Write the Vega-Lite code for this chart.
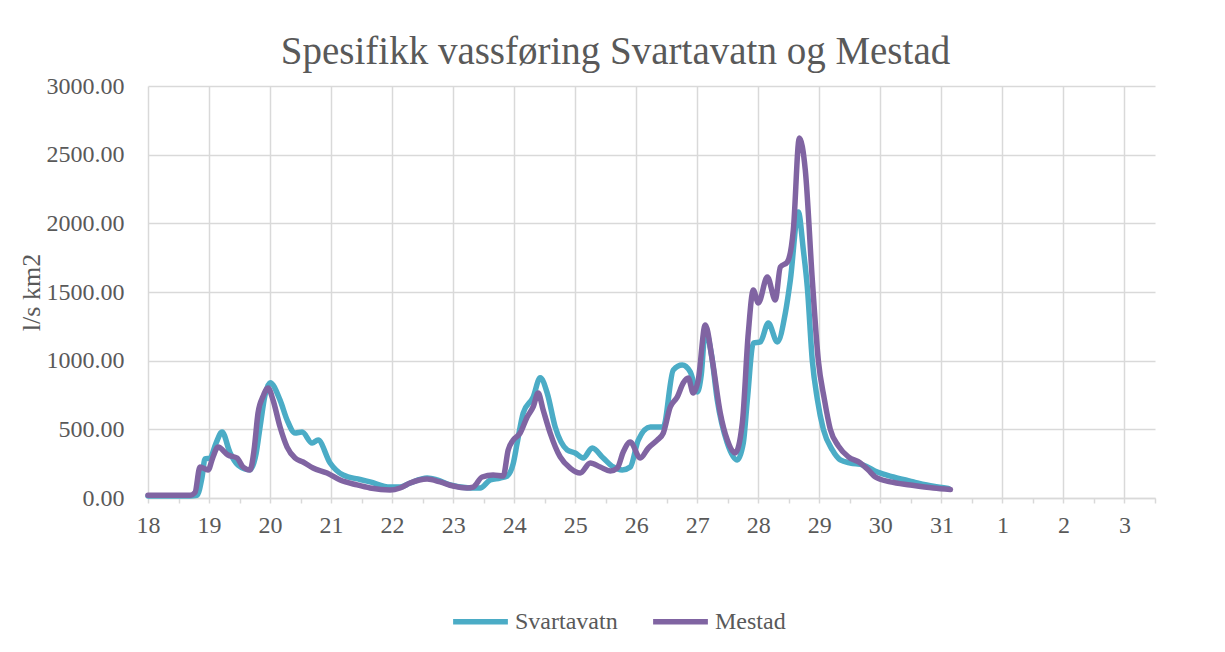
{
  "$schema": "https://vega.github.io/schema/vega-lite/v6.json",
  "autosize": "none",
  "width": 1007,
  "height": 412,
  "padding": {"left": 148, "top": 86, "right": 70, "bottom": 154},
  "background": "white",
  "title": {
    "text": "Spesifikk vassføring Svartavatn og Mestad",
    "anchor": "middle",
    "dx": -36,
    "offset": 2,
    "font": "Liberation Serif",
    "fontSize": 39,
    "fontWeight": "normal",
    "color": "#595959"
  },
  "config": {
    "view": {"stroke": null},
    "font": "Liberation Serif"
  },
  "data": {
    "values": [
      {"t": 0, "v": 15, "s": "Svartavatn"},
      {"t": 0.361, "v": 15, "s": "Svartavatn"},
      {"t": 0.689, "v": 15, "s": "Svartavatn"},
      {"t": 0.803, "v": 20, "s": "Svartavatn"},
      {"t": 0.885, "v": 150, "s": "Svartavatn"},
      {"t": 0.934, "v": 285, "s": "Svartavatn"},
      {"t": 1.016, "v": 290, "s": "Svartavatn"},
      {"t": 1.115, "v": 400, "s": "Svartavatn"},
      {"t": 1.213, "v": 480, "s": "Svartavatn"},
      {"t": 1.344, "v": 330, "s": "Svartavatn"},
      {"t": 1.475, "v": 240, "s": "Svartavatn"},
      {"t": 1.672, "v": 205, "s": "Svartavatn"},
      {"t": 1.770, "v": 320, "s": "Svartavatn"},
      {"t": 1.836, "v": 517, "s": "Svartavatn"},
      {"t": 1.918, "v": 750, "s": "Svartavatn"},
      {"t": 2.0, "v": 840, "s": "Svartavatn"},
      {"t": 2.164, "v": 713, "s": "Svartavatn"},
      {"t": 2.279, "v": 568, "s": "Svartavatn"},
      {"t": 2.410, "v": 473, "s": "Svartavatn"},
      {"t": 2.525, "v": 480, "s": "Svartavatn"},
      {"t": 2.689, "v": 400, "s": "Svartavatn"},
      {"t": 2.787, "v": 422, "s": "Svartavatn"},
      {"t": 2.984, "v": 255, "s": "Svartavatn"},
      {"t": 3.197, "v": 167, "s": "Svartavatn"},
      {"t": 3.475, "v": 135, "s": "Svartavatn"},
      {"t": 3.639, "v": 117, "s": "Svartavatn"},
      {"t": 3.967, "v": 80, "s": "Svartavatn"},
      {"t": 4.131, "v": 80, "s": "Svartavatn"},
      {"t": 4.295, "v": 109, "s": "Svartavatn"},
      {"t": 4.574, "v": 145, "s": "Svartavatn"},
      {"t": 4.738, "v": 131, "s": "Svartavatn"},
      {"t": 4.951, "v": 95, "s": "Svartavatn"},
      {"t": 5.279, "v": 73, "s": "Svartavatn"},
      {"t": 5.443, "v": 73, "s": "Svartavatn"},
      {"t": 5.607, "v": 131, "s": "Svartavatn"},
      {"t": 5.770, "v": 145, "s": "Svartavatn"},
      {"t": 5.885, "v": 160, "s": "Svartavatn"},
      {"t": 5.984, "v": 250, "s": "Svartavatn"},
      {"t": 6.049, "v": 400, "s": "Svartavatn"},
      {"t": 6.148, "v": 619, "s": "Svartavatn"},
      {"t": 6.311, "v": 735, "s": "Svartavatn"},
      {"t": 6.426, "v": 875, "s": "Svartavatn"},
      {"t": 6.541, "v": 764, "s": "Svartavatn"},
      {"t": 6.672, "v": 517, "s": "Svartavatn"},
      {"t": 6.869, "v": 350, "s": "Svartavatn"},
      {"t": 7.0, "v": 328, "s": "Svartavatn"},
      {"t": 7.131, "v": 291, "s": "Svartavatn"},
      {"t": 7.279, "v": 364, "s": "Svartavatn"},
      {"t": 7.459, "v": 291, "s": "Svartavatn"},
      {"t": 7.623, "v": 226, "s": "Svartavatn"},
      {"t": 7.770, "v": 204, "s": "Svartavatn"},
      {"t": 7.902, "v": 226, "s": "Svartavatn"},
      {"t": 8.033, "v": 422, "s": "Svartavatn"},
      {"t": 8.230, "v": 517, "s": "Svartavatn"},
      {"t": 8.443, "v": 517, "s": "Svartavatn"},
      {"t": 8.607, "v": 932, "s": "Svartavatn"},
      {"t": 8.754, "v": 968, "s": "Svartavatn"},
      {"t": 8.885, "v": 918, "s": "Svartavatn"},
      {"t": 9.0, "v": 772, "s": "Svartavatn"},
      {"t": 9.066, "v": 900, "s": "Svartavatn"},
      {"t": 9.131, "v": 1223, "s": "Svartavatn"},
      {"t": 9.230, "v": 1050, "s": "Svartavatn"},
      {"t": 9.328, "v": 713, "s": "Svartavatn"},
      {"t": 9.492, "v": 400, "s": "Svartavatn"},
      {"t": 9.656, "v": 277, "s": "Svartavatn"},
      {"t": 9.754, "v": 400, "s": "Svartavatn"},
      {"t": 9.820, "v": 713, "s": "Svartavatn"},
      {"t": 9.918, "v": 1128, "s": "Svartavatn"},
      {"t": 10.033, "v": 1136, "s": "Svartavatn"},
      {"t": 10.164, "v": 1274, "s": "Svartavatn"},
      {"t": 10.311, "v": 1136, "s": "Svartavatn"},
      {"t": 10.443, "v": 1347, "s": "Svartavatn"},
      {"t": 10.525, "v": 1587, "s": "Svartavatn"},
      {"t": 10.656, "v": 2083, "s": "Svartavatn"},
      {"t": 10.738, "v": 1806, "s": "Svartavatn"},
      {"t": 10.803, "v": 1536, "s": "Svartavatn"},
      {"t": 10.885, "v": 1000, "s": "Svartavatn"},
      {"t": 10.967, "v": 720, "s": "Svartavatn"},
      {"t": 11.066, "v": 500, "s": "Svartavatn"},
      {"t": 11.213, "v": 350, "s": "Svartavatn"},
      {"t": 11.344, "v": 277, "s": "Svartavatn"},
      {"t": 11.508, "v": 255, "s": "Svartavatn"},
      {"t": 11.721, "v": 240, "s": "Svartavatn"},
      {"t": 11.951, "v": 189, "s": "Svartavatn"},
      {"t": 12.213, "v": 153, "s": "Svartavatn"},
      {"t": 12.541, "v": 117, "s": "Svartavatn"},
      {"t": 12.869, "v": 85, "s": "Svartavatn"},
      {"t": 13.115, "v": 70, "s": "Svartavatn"},
      {"t": 0, "v": 20, "s": "Mestad"},
      {"t": 0.689, "v": 20, "s": "Mestad"},
      {"t": 0.770, "v": 40, "s": "Mestad"},
      {"t": 0.852, "v": 226, "s": "Mestad"},
      {"t": 0.984, "v": 204, "s": "Mestad"},
      {"t": 1.066, "v": 300, "s": "Mestad"},
      {"t": 1.148, "v": 371, "s": "Mestad"},
      {"t": 1.311, "v": 313, "s": "Mestad"},
      {"t": 1.459, "v": 291, "s": "Mestad"},
      {"t": 1.557, "v": 226, "s": "Mestad"},
      {"t": 1.672, "v": 204, "s": "Mestad"},
      {"t": 1.738, "v": 350, "s": "Mestad"},
      {"t": 1.803, "v": 619, "s": "Mestad"},
      {"t": 1.885, "v": 740, "s": "Mestad"},
      {"t": 1.967, "v": 801, "s": "Mestad"},
      {"t": 2.049, "v": 713, "s": "Mestad"},
      {"t": 2.164, "v": 517, "s": "Mestad"},
      {"t": 2.279, "v": 371, "s": "Mestad"},
      {"t": 2.410, "v": 291, "s": "Mestad"},
      {"t": 2.541, "v": 262, "s": "Mestad"},
      {"t": 2.705, "v": 218, "s": "Mestad"},
      {"t": 2.934, "v": 182, "s": "Mestad"},
      {"t": 3.148, "v": 131, "s": "Mestad"},
      {"t": 3.426, "v": 95, "s": "Mestad"},
      {"t": 3.639, "v": 73, "s": "Mestad"},
      {"t": 3.967, "v": 58, "s": "Mestad"},
      {"t": 4.131, "v": 73, "s": "Mestad"},
      {"t": 4.295, "v": 109, "s": "Mestad"},
      {"t": 4.574, "v": 138, "s": "Mestad"},
      {"t": 4.787, "v": 117, "s": "Mestad"},
      {"t": 5.0, "v": 87, "s": "Mestad"},
      {"t": 5.230, "v": 73, "s": "Mestad"},
      {"t": 5.328, "v": 80, "s": "Mestad"},
      {"t": 5.475, "v": 153, "s": "Mestad"},
      {"t": 5.656, "v": 167, "s": "Mestad"},
      {"t": 5.820, "v": 160, "s": "Mestad"},
      {"t": 5.902, "v": 350, "s": "Mestad"},
      {"t": 5.984, "v": 422, "s": "Mestad"},
      {"t": 6.098, "v": 473, "s": "Mestad"},
      {"t": 6.213, "v": 590, "s": "Mestad"},
      {"t": 6.311, "v": 663, "s": "Mestad"},
      {"t": 6.393, "v": 764, "s": "Mestad"},
      {"t": 6.475, "v": 641, "s": "Mestad"},
      {"t": 6.590, "v": 473, "s": "Mestad"},
      {"t": 6.754, "v": 299, "s": "Mestad"},
      {"t": 6.918, "v": 218, "s": "Mestad"},
      {"t": 7.082, "v": 182, "s": "Mestad"},
      {"t": 7.246, "v": 255, "s": "Mestad"},
      {"t": 7.410, "v": 226, "s": "Mestad"},
      {"t": 7.574, "v": 197, "s": "Mestad"},
      {"t": 7.689, "v": 218, "s": "Mestad"},
      {"t": 7.787, "v": 335, "s": "Mestad"},
      {"t": 7.902, "v": 408, "s": "Mestad"},
      {"t": 8.066, "v": 291, "s": "Mestad"},
      {"t": 8.197, "v": 364, "s": "Mestad"},
      {"t": 8.344, "v": 422, "s": "Mestad"},
      {"t": 8.443, "v": 473, "s": "Mestad"},
      {"t": 8.557, "v": 663, "s": "Mestad"},
      {"t": 8.672, "v": 735, "s": "Mestad"},
      {"t": 8.770, "v": 837, "s": "Mestad"},
      {"t": 8.852, "v": 874, "s": "Mestad"},
      {"t": 8.934, "v": 764, "s": "Mestad"},
      {"t": 9.016, "v": 859, "s": "Mestad"},
      {"t": 9.131, "v": 1260, "s": "Mestad"},
      {"t": 9.246, "v": 1005, "s": "Mestad"},
      {"t": 9.377, "v": 619, "s": "Mestad"},
      {"t": 9.492, "v": 422, "s": "Mestad"},
      {"t": 9.623, "v": 328, "s": "Mestad"},
      {"t": 9.738, "v": 546, "s": "Mestad"},
      {"t": 9.836, "v": 1201, "s": "Mestad"},
      {"t": 9.918, "v": 1514, "s": "Mestad"},
      {"t": 10.0, "v": 1420, "s": "Mestad"},
      {"t": 10.148, "v": 1609, "s": "Mestad"},
      {"t": 10.279, "v": 1442, "s": "Mestad"},
      {"t": 10.361, "v": 1682, "s": "Mestad"},
      {"t": 10.475, "v": 1718, "s": "Mestad"},
      {"t": 10.574, "v": 1952, "s": "Mestad"},
      {"t": 10.672, "v": 2621, "s": "Mestad"},
      {"t": 10.770, "v": 2388, "s": "Mestad"},
      {"t": 10.885, "v": 1587, "s": "Mestad"},
      {"t": 10.984, "v": 1000, "s": "Mestad"},
      {"t": 11.082, "v": 720, "s": "Mestad"},
      {"t": 11.180, "v": 500, "s": "Mestad"},
      {"t": 11.311, "v": 380, "s": "Mestad"},
      {"t": 11.475, "v": 300, "s": "Mestad"},
      {"t": 11.672, "v": 255, "s": "Mestad"},
      {"t": 11.803, "v": 204, "s": "Mestad"},
      {"t": 11.918, "v": 153, "s": "Mestad"},
      {"t": 12.164, "v": 117, "s": "Mestad"},
      {"t": 12.492, "v": 95, "s": "Mestad"},
      {"t": 12.869, "v": 73, "s": "Mestad"},
      {"t": 13.148, "v": 62, "s": "Mestad"}
    ]
  },
  "mark": {"type": "line", "strokeWidth": 5.5, "strokeCap": "round", "strokeJoin": "round", "interpolate": "monotone"},
  "encoding": {
    "x": {
      "field": "t",
      "type": "quantitative",
      "scale": {"domain": [0, 16.5], "nice": false, "zero": false},
      "axis": {
        "title": null,
        "values": [0, 0.5, 1, 1.5, 2, 2.5, 3, 3.5, 4, 4.5, 5, 5.5, 6, 6.5, 7, 7.5, 8, 8.5, 9, 9.5, 10, 10.5, 11, 11.5, 12, 12.5, 13, 13.5, 14, 14.5, 15, 15.5, 16, 16.5],
        "labelExpr": "datum.value % 1 == 0 ? (datum.value + 18 > 31 ? '' + (datum.value - 13) : '' + (datum.value + 18)) : ''",
        "labelFont": "Liberation Serif",
        "labelFontSize": 24,
        "labelColor": "#595959",
        "labelPadding": 10,
        "labelFlush": false,
        "labelOverlap": false,
        "domainColor": "#d9d9d9",
        "domainWidth": 1.5,
        "tickColor": "#d9d9d9",
        "tickSize": 5,
        "tickWidth": 1.5,
        "grid": true,
        "gridColor": "#d9d9d9",
        "gridWidth": 1.5,
        "gridOpacity": {"condition": {"test": "datum.value % 1 == 0 && datum.value < 16.4", "value": 1}, "value": 0}
      }
    },
    "y": {
      "field": "v",
      "type": "quantitative",
      "scale": {"domain": [0, 3000], "nice": false},
      "axis": {
        "title": "l/s km2",
        "titleFont": "Liberation Serif",
        "titleFontSize": 26,
        "titleFontWeight": "normal",
        "titleColor": "#595959",
        "titlePadding": 2,
        "values": [0, 500, 1000, 1500, 2000, 2500, 3000],
        "format": ".2f",
        "labelFont": "Liberation Serif",
        "labelFontSize": 24,
        "labelColor": "#595959",
        "labelPadding": 24,
        "domain": false,
        "ticks": false,
        "grid": true,
        "gridColor": "#d9d9d9",
        "gridWidth": 1.5
      }
    },
    "color": {
      "field": "s",
      "type": "nominal",
      "scale": {"domain": ["Svartavatn", "Mestad"], "range": ["#4bacc6", "#8064a2"]},
      "legend": {
        "title": null,
        "orient": "none",
        "legendX": 302,
        "legendY": 505,
        "direction": "horizontal",
        "symbolType": "stroke",
        "symbolSize": 3000,
        "symbolStrokeWidth": 5.5,
        "labelFont": "Liberation Serif",
        "labelFontSize": 24,
        "labelColor": "#595959",
        "labelOffset": 4,
        "columnPadding": 24
      }
    }
  }
}
